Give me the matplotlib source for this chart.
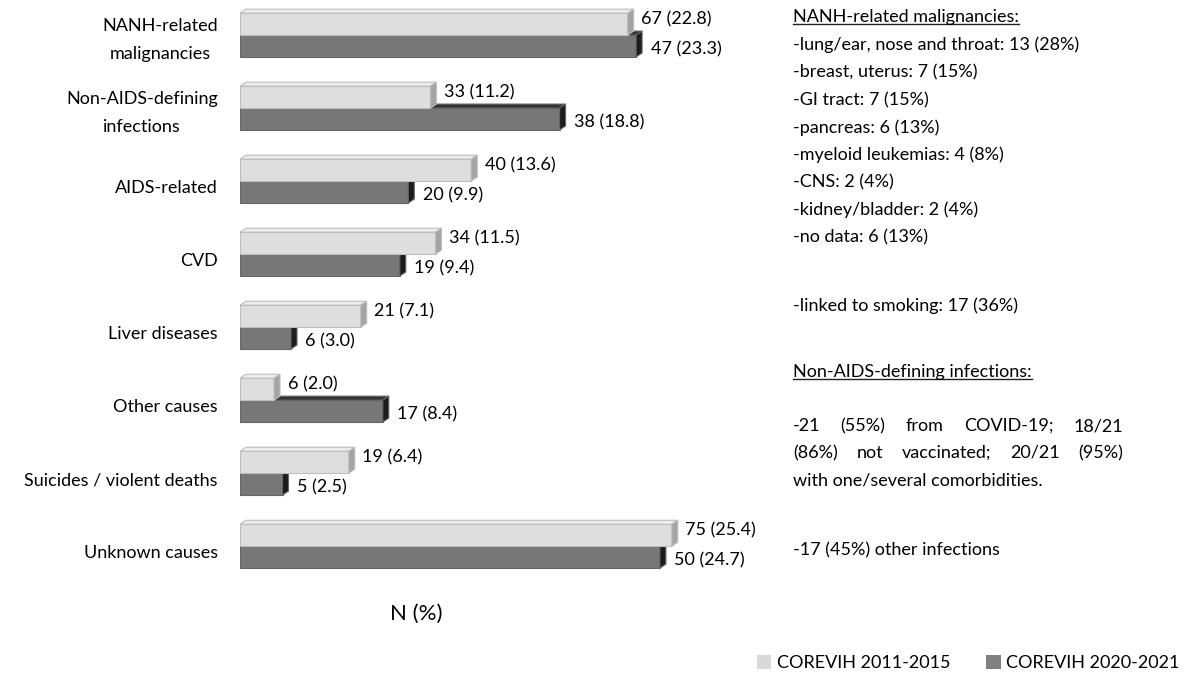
import matplotlib
matplotlib.use("Agg")
import matplotlib.pyplot as plt
from matplotlib.patches import Polygon, Patch
from matplotlib.lines import Line2D

# data
categories = ["NANH-related\nmalignancies", "Non-AIDS-defining\ninfections", "AIDS-related",
              "CVD", "Liver diseases", "Other causes", "Suicides / violent deaths", "Unknown causes"]
n_2011 = [67, 33, 40, 34, 21, 6, 19, 75]
pct_2011 = [22.8, 11.2, 13.6, 11.5, 7.1, 2.0, 6.4, 25.4]
n_2020 = [47, 38, 20, 19, 6, 17, 5, 50]
pct_2020 = [23.3, 18.8, 9.9, 9.4, 3.0, 8.4, 2.5, 24.7]
series_names = ["COREVIH 2011-2015", "COREVIH 2020-2021"]

malig_title = "NANH-related malignancies:"
malig_lines = ["-lung/ear, nose and throat: 13 (28%)", "-breast, uterus: 7 (15%)",
               "-GI tract: 7 (15%)", "-pancreas: 6 (13%)", "-myeloid leukemias: 4 (8%)",
               "-CNS: 2 (4%)", "-kidney/bladder: 2 (4%)", "-no data: 6 (13%)"]
smoking_line = "-linked to smoking: 17 (36%)"
infect_title = "Non-AIDS-defining infections:"
infect_par = ["-21 (55%) from COVID-19; 18/21", "(86%) not vaccinated; 20/21 (95%)",
              "with one/several comorbidities."]
infect_other = "-17 (45%) other infections"

FONT = "Lato"
FS = 13
W, H = 1184, 674

plt.rcParams["font.family"] = [FONT, "DejaVu Sans"]
fig = plt.figure(figsize=(W / 100, H / 100), dpi=100)
ax = fig.add_axes([240 / W, 1 - 590 / H, 544 / W, 590 / H])
ax.set_xlim(0, 32)
ax.set_ylim(7.6, -0.48)
for s in ax.spines.values():
    s.set_visible(False)
ax.set_xticks([])

bh = 0.30          # bar height in group units
dx = 6 / 17.0      # depth offset (x), data units
dy = 4 / 73.0      # depth offset (y), data units

styles = [
    # front, top, side, edge
    ("#dedede", "#ececec", "#a4a4a4", "#bdbdbd"),
    ("#777777", "#333333", "#1c1c1c", "#666666"),
]


def bar3d(yc, w, st, z):
    front, top, side, edge = st
    ax.barh(yc, w, height=bh, color=front, edgecolor=edge, linewidth=0.8, zorder=z)
    yt = yc - bh / 2
    yb = yc + bh / 2
    ax.add_patch(Polygon([(0, yt), (w, yt), (w + dx, yt - dy), (dx, yt - dy)],
                         closed=True, facecolor=top, edgecolor=edge, linewidth=0.8, zorder=z))
    ax.add_patch(Polygon([(w, yt), (w + dx, yt - dy), (w + dx, yb - dy), (w, yb)],
                         closed=True, facecolor=side, edgecolor=edge, linewidth=0.8, zorder=z))


for i in range(len(categories)):
    # dark (2020-2021) bar sits below, drawn first
    yc2 = i + bh / 2
    bar3d(yc2, pct_2020[i], styles[1], 2 + i * 0.01)
    ax.text(pct_2020[i] + 0.85, yc2 + 0.04, f"{n_2020[i]} ({pct_2020[i]:.1f})",
            ha="left", va="center", fontsize=FS, zorder=5)
    yc1 = i - bh / 2
    bar3d(yc1, pct_2011[i], styles[0], 3 + i * 0.01)
    ax.text(pct_2011[i] + 0.8, yc1 - 0.07, f"{n_2011[i]} ({pct_2011[i]:.1f})",
            ha="left", va="center", fontsize=FS, zorder=5)

ax.set_yticks([i + (0.07 if "\n" in c else 0.1) for i, c in enumerate(categories)])
ax.set_yticklabels(categories, fontsize=FS)
for lab in ax.get_yticklabels():
    lab.set_multialignment("center")
    lab.set_verticalalignment("center")
    lab.set_linespacing(1.9)
ax.tick_params(axis="y", length=0, pad=16)

fig.text(416 / W, 1 - 614 / H, "N (%)", ha="center", va="center", fontsize=16)

# right-hand notes
xl = 793 / W
xr = 1123 / W


def fy(py):
    return 1 - py / H


t1 = fig.text(xl, fy(17), malig_title, fontsize=FS, va="center")
for k, line in enumerate(malig_lines):
    fig.text(xl, fy(45 + k * 27.5), line, fontsize=FS, va="center")
fig.text(xl, fy(306), smoking_line, fontsize=FS, va="center")
t2 = fig.text(xl, fy(372), infect_title, fontsize=FS, va="center")
fig.text(xl, fy(550), infect_other, fontsize=FS, va="center")

renderer = fig.canvas.get_renderer()

# underline the two headings
for t in (t1, t2):
    bb = t.get_window_extent(renderer)
    yline = (bb.y0 + 1) / H
    fig.add_artist(Line2D([bb.x0 / W, bb.x1 / W], [yline, yline], color="#222222", lw=1.0))

# justified paragraph
par_y = [426, 453, 480]
for k, line in enumerate(infect_par):
    if k == len(infect_par) - 1:
        fig.text(xl, fy(par_y[k]), line, fontsize=FS, va="center")
        continue
    words = line.split()
    objs = [fig.text(0, fy(par_y[k]), w_, fontsize=FS, va="center") for w_ in words]
    widths = [o.get_window_extent(renderer).width / W for o in objs]
    gap = (xr - xl - sum(widths)) / (len(words) - 1)
    x = xl
    for o, wd in zip(objs, widths):
        o.set_x(x)
        x += wd + gap

handles = [Patch(facecolor="#d9d9d9", edgecolor="none"), Patch(facecolor="#808080", edgecolor="none")]
fig.legend(handles, series_names, loc="lower right", bbox_to_anchor=(1.01, -0.02), ncol=2,
           frameon=False, fontsize=FS, handlelength=0.8, handleheight=0.8,
           handletextpad=0.3, columnspacing=2.0)

fig.savefig("out.png", dpi=100, facecolor="white")
